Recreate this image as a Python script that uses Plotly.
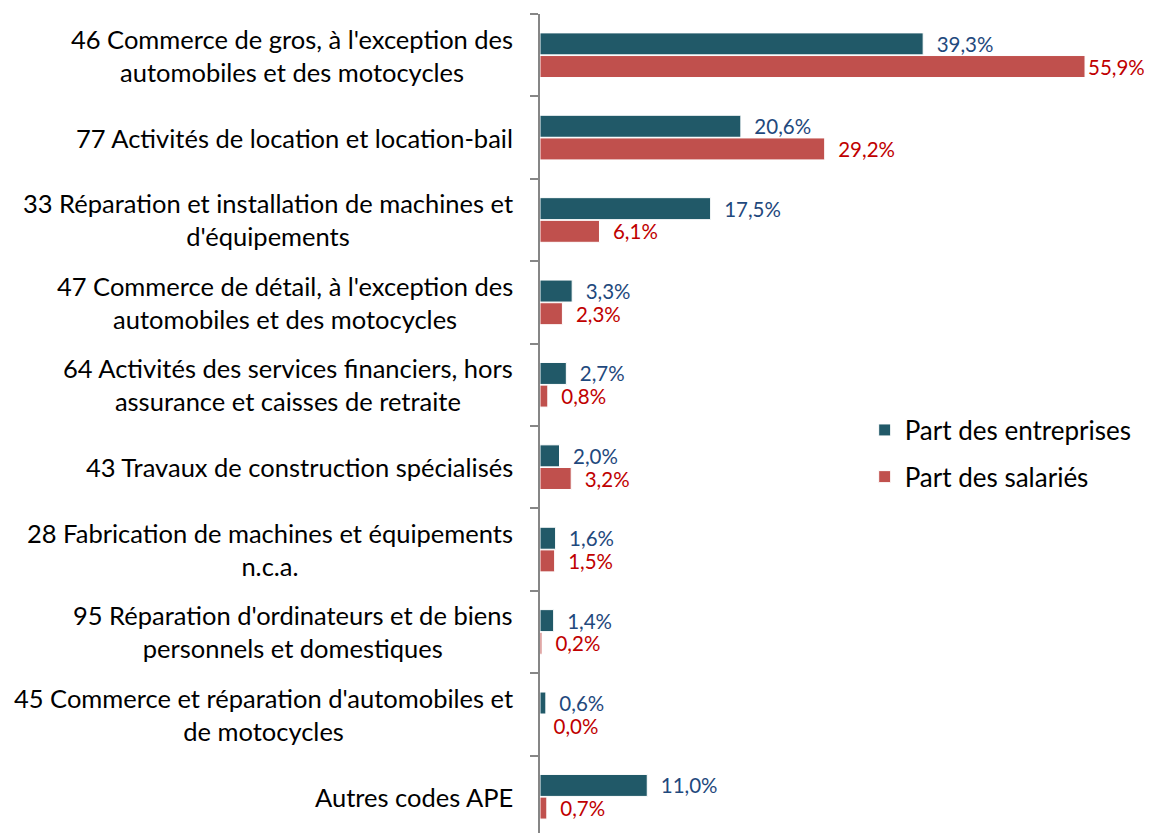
import plotly.graph_objects as go

categories = [
    "46 Commerce de gros, à l'exception des<br>automobiles et des motocycles",
    "77 Activités de location et location-bail",
    "33 Réparation et installation de machines et<br>d'équipements",
    "47 Commerce de détail, à l'exception des<br>automobiles et des motocycles",
    "64 Activités des services financiers, hors<br>assurance et caisses de retraite",
    "43 Travaux de construction spécialisés",
    "28 Fabrication de machines et équipements<br>n.c.a.",
    "95 Réparation d'ordinateurs et de biens<br>personnels et domestiques",
    "45 Commerce et réparation d'automobiles et<br>de motocycles",
    "Autres codes APE",
]
part_entreprises = [39.3, 20.6, 17.5, 3.3, 2.7, 2.0, 1.6, 1.4, 0.6, 11.0]
part_salaries = [55.9, 29.2, 6.1, 2.3, 0.8, 3.2, 1.5, 0.2, 0.0, 0.7]

vmax = max(part_entreprises + part_salaries)

def fmt(v):
    pad = "" if v == vmax else "\u00a0\u00a0"
    return pad + f"{v:.1f}".replace(".", ",") + "%"

LAB = dict(size=20.5, family="Lato")

fig = go.Figure()
fig.add_trace(go.Bar(
    y=categories, x=part_entreprises, orientation="h", name="Part des entreprises",
    marker=dict(color="#215968", line=dict(color="white", width=1)),
    text=[fmt(v) for v in part_entreprises], textposition="outside",
    textfont=dict(color="#1F497D", **LAB), constraintext="none",
    cliponaxis=False, legend="legend",
))
fig.add_trace(go.Bar(
    y=categories, x=part_salaries, orientation="h", name="Part des salariés",
    marker=dict(color="#C0504D", line=dict(color="white", width=1)),
    text=[fmt(v) for v in part_salaries], textposition="outside",
    textfont=dict(color="#C00000", **LAB), constraintext="none",
    cliponaxis=False, legend="legend2",
))

annotations = []
for c in categories:
    annotations.append(dict(
        x=0, xref="paper", y=c, yref="y", text=c, showarrow=False,
        xanchor="right", yanchor="middle", align="center", xshift=-25,
        font=dict(family="Lato", size=25.5, color="#000000"),
    ))

fig.update_layout(
    width=1144, height=825,
    margin=dict(l=532, r=27, t=6, b=0, autoexpand=False),
    paper_bgcolor="white", plot_bgcolor="white",
    barmode="group", bargap=0.45, bargroupgap=0.03,
    xaxis=dict(range=[0, 60], visible=False, showgrid=False, zeroline=False,
               automargin=False),
    yaxis=dict(
        type="category",
        range=[9.44, -0.5],
        ticks="outside", ticklen=8, tickcolor="#868686", tickwidth=2,
        tickson="boundaries", automargin=False,
        showline=True, linecolor="#868686", linewidth=2,
        showgrid=False, zeroline=False, showticklabels=False,
    ),
    annotations=annotations,
    legend=dict(x=0.555, y=0.492, xanchor="left", yanchor="middle",
                font=dict(family="Lato", size=26, color="#000000"),
                bgcolor="rgba(0,0,0,0)"),
    legend2=dict(x=0.555, y=0.435, xanchor="left", yanchor="middle",
                 font=dict(family="Lato", size=26, color="#000000"),
                 bgcolor="rgba(0,0,0,0)"),
    showlegend=True,
)

fig.write_html("out.html")
